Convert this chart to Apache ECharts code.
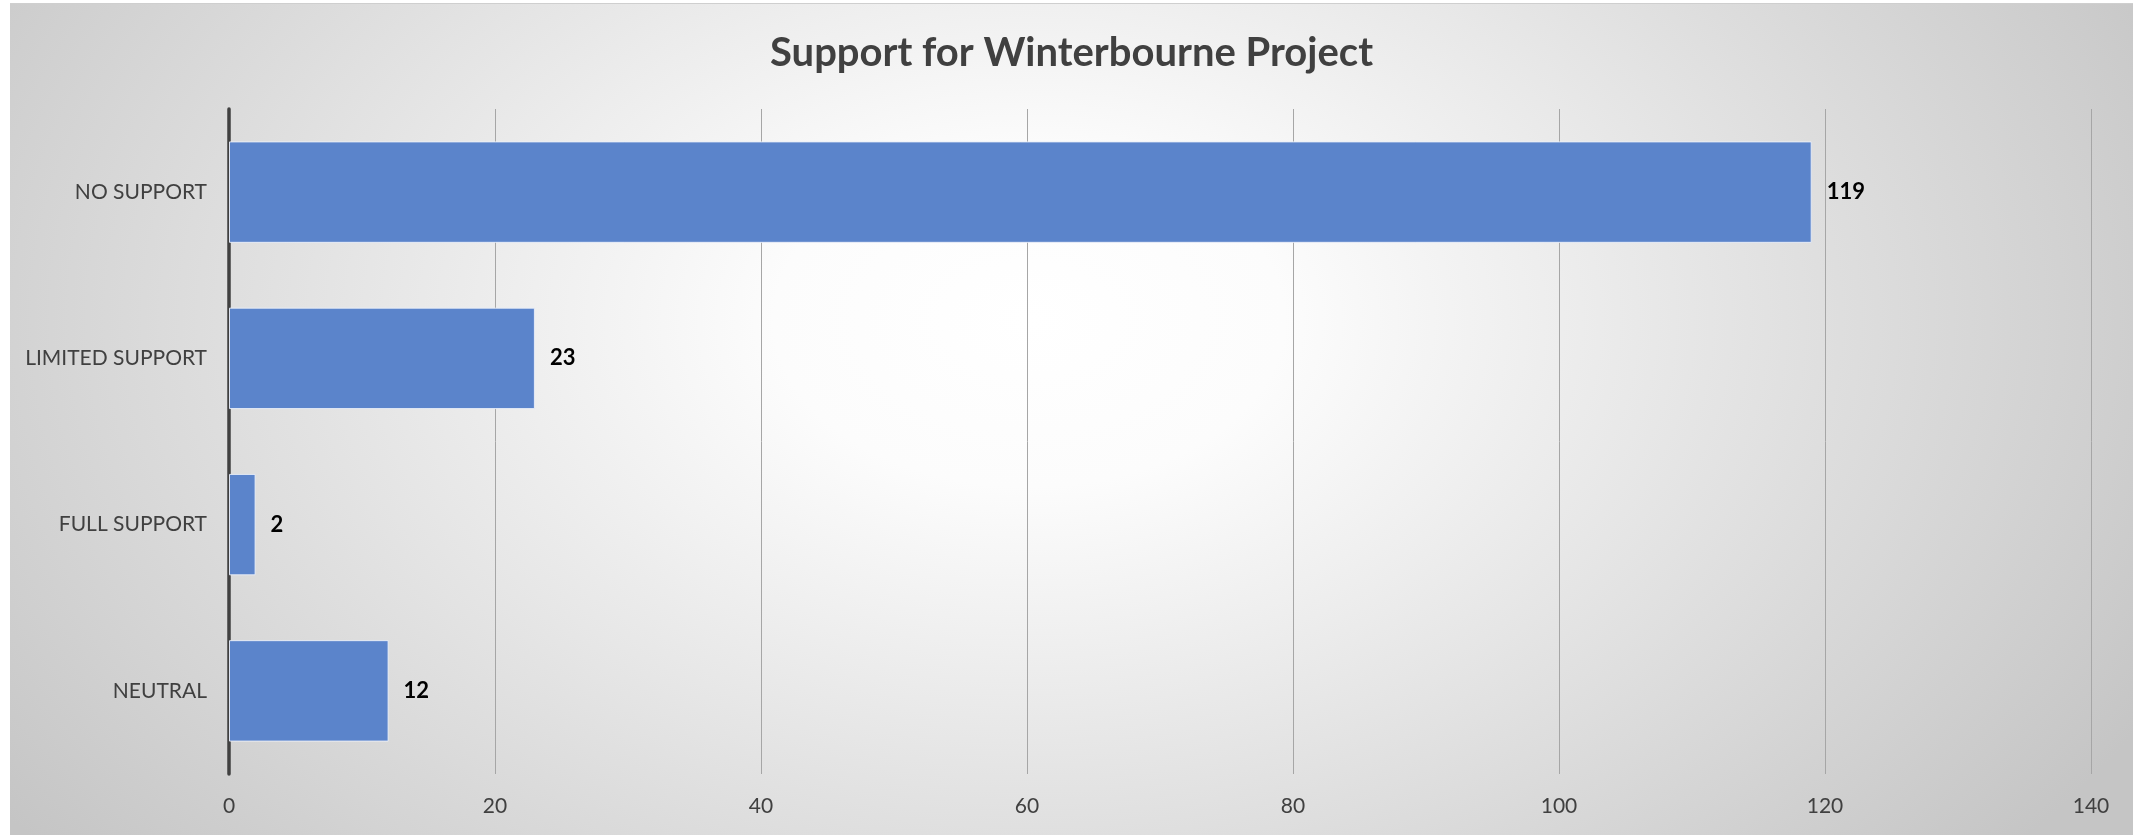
<!DOCTYPE html>
<html>
<head>
<meta charset="utf-8">
<script src="https://cdn.jsdelivr.net/npm/echarts@6/dist/echarts.min.js"></script>
<style>
  html, body { margin: 0; padding: 0; background: #ffffff; width: 2133px; height: 835px; overflow: hidden; }
  #bg {
    position: absolute; left: 10px; top: 3px; width: 2123px; height: 832px;
    border-top: 1px solid #cfcfcf;
    background: radial-gradient(ellipse 60% 100% at 48% 38%, #ffffff 0%, #fcfcfc 20%, #e4e4e4 55%, #c5c5c5 100%);
  }
  #chart { position: absolute; left: 10px; top: 3px; width: 2123px; height: 832px; }
</style>
</head>
<body>
<div id="bg"></div>
<div id="chart"></div>
<script>
const titleText = 'Support for Winterbourne Project';
const categories = ['NO SUPPORT', 'LIMITED SUPPORT', 'FULL SUPPORT', 'NEUTRAL'];
const values = [119, 23, 2, 12];
const axisMin = 0;
const axisMax = 140;
const axisStep = 20;

const chart = echarts.init(document.getElementById('chart'), null, { renderer: 'canvas' });
chart.setOption({
  backgroundColor: 'transparent',
  animation: false,
  textStyle: { fontFamily: 'Lato' },
  title: {
    text: titleText,
    left: 'center',
    top: 25,
    textStyle: { fontFamily: 'Lato', fontSize: 40, fontWeight: 'bold', color: '#404040' }
  },
  grid: { left: 219, right: 42, top: 106, bottom: 61, containLabel: false },
  xAxis: {
    type: 'value',
    min: axisMin, max: axisMax, interval: axisStep,
    axisLine: { show: false },
    axisTick: { show: false },
    splitLine: { show: true, lineStyle: { color: '#a6a6a6', width: 1 } },
    axisLabel: { color: '#404040', fontSize: 21, fontFamily: 'Lato', margin: 22 }
  },
  yAxis: {
    type: 'category',
    data: categories,
    inverse: true,
    axisLine: { show: true, lineStyle: { color: '#404040', width: 3.5 } },
    axisTick: { show: false },
    axisLabel: { color: '#404040', fontSize: 21, fontFamily: 'Lato', margin: 22 }
  },
  series: [{
    type: 'bar',
    data: values,
    barCategoryGap: '39%',
    itemStyle: { color: '#5b84cb', borderColor: 'rgba(235,240,250,0.9)', borderWidth: 1 },
    label: {
      show: true, position: 'right', distance: 15,
      color: '#000000', fontSize: 22, fontWeight: 'bold', fontFamily: 'Lato'
    }
  }]
});
</script>
</body>
</html>
